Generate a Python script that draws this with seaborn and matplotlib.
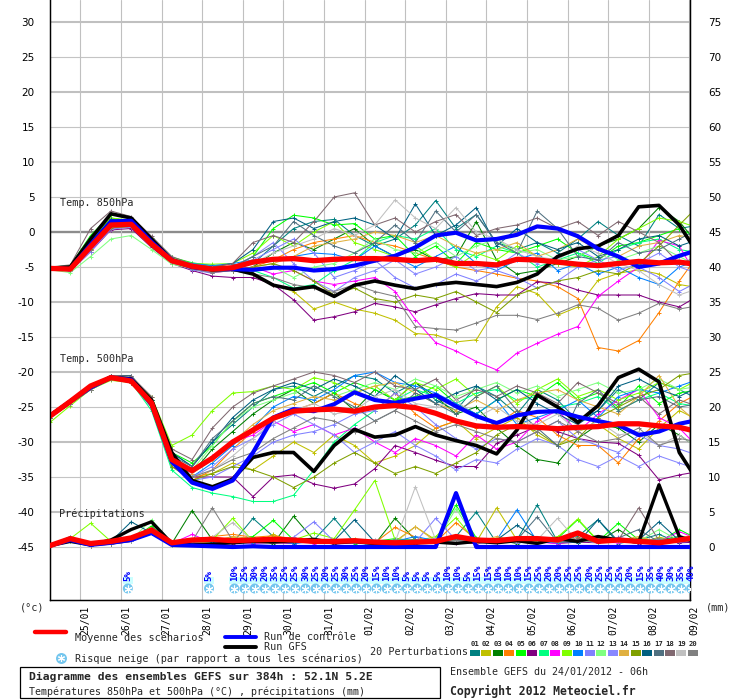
import matplotlib
matplotlib.use("Agg")
import matplotlib.pyplot as plt
from matplotlib.patches import Rectangle
from matplotlib.lines import Line2D
import numpy as np
import pandas as pd
import seaborn as sns

# ---------------- data ----------------
hours = [0, 12, 24, 36, 48, 60, 72, 84, 96, 108, 120, 132, 144, 156, 168, 180, 192,
         204, 216, 228, 240, 252, 264, 276, 288, 300, 312, 324, 336, 348, 360, 372, 384]
day_hours = [18, 42, 66, 90, 114, 138, 162, 186, 210, 234, 258, 282, 306, 330, 354, 378]
day_labels = ["25/01", "26/01", "27/01", "28/01", "29/01", "30/01", "31/01", "01/02",
              "02/02", "03/02", "04/02", "05/02", "06/02", "07/02", "08/02", "09/02"]

mean_850 = [-5.2, -5.3, -2.1, 1.0, 1.1, -1.7, -4.1, -4.9, -5.3,
            -5.1, -4.3, -3.9, -3.8, -4.1, -3.9, -3.8, -3.8, -3.9, -4.1, -3.9, -4.5,
            -4.5, -4.7, -3.9, -4.0, -4.3, -4.6, -4.8, -4.5, -4.2, -4.4, -4.3, -4.7]
ctrl_850 = [-5.2, -5.3, -1.8, 1.5, 1.6, -1.4, -4.0, -5.0, -5.3,
            -5.3, -5.4, -5.1, -5.1, -5.5, -5.3, -4.8, -4.1, -3.4, -2.2, -0.5, -0.1,
            -1.2, -1.0, -0.4, 0.8, 0.5, -0.6, -2.4, -3.5, -5.0, -4.5, -3.4, -2.5]
gfs_850 = [-5.2, -5.0, -1.0, 2.6, 2.0, -1.0, -4.0, -5.0, -5.4,
           -5.3, -6.0, -7.6, -8.2, -7.8, -9.2, -7.6, -7.0, -7.6, -8.1, -7.5, -7.2,
           -7.5, -7.8, -7.2, -6.0, -3.5, -2.4, -2.0, -0.5, 3.6, 3.8, 1.0, -3.5]

mean_500 = [-26.3, -24.2, -22.0, -20.8, -21.3, -24.4, -32.5, -34.1, -32.3,
            -30.0, -28.3, -26.6, -25.6, -25.4, -25.3, -25.6, -25.0, -24.8, -25.1, -25.9, -27.0,
            -27.7, -27.9, -27.8, -27.9, -28.1, -27.9, -27.8, -27.4, -27.4, -27.7, -27.9, -28.6]
ctrl_500 = [-26.3, -24.2, -22.2, -20.8, -21.1, -24.6, -32.8, -35.8, -36.7,
            -35.5, -31.5, -26.5, -25.3, -25.6, -24.6, -22.9, -24.0, -24.4, -23.8, -23.3, -24.9,
            -26.3, -27.3, -26.2, -25.7, -25.6, -26.4, -27.0, -27.6, -29.0, -28.5, -27.4, -26.8]
gfs_500 = [-26.3, -24.2, -22.2, -20.8, -21.0, -24.0, -31.5, -35.5, -36.4,
           -35.3, -32.2, -31.5, -31.5, -34.2, -30.5, -28.2, -29.3, -29.0, -27.8, -29.0, -29.8,
           -30.5, -31.7, -28.3, -23.3, -25.0, -27.2, -24.8, -20.8, -19.6, -21.4, -31.5, -36.0]

mean_rr = [0.2, 1.2, 0.5, 0.8, 1.3, 2.4, 0.6, 1.0, 1.1, 0.9, 1.0, 1.1, 1.0, 0.8, 0.8, 0.9, 0.7,
           0.6, 0.7, 0.8, 1.5, 1.0, 0.9, 1.2, 1.2, 1.0, 2.0, 0.8, 1.0, 0.8, 0.6, 1.0, 1.4]
ctrl_rr = [0.2, 1.0, 0.3, 0.6, 1.0, 2.0, 0.3, 0.2, 0.1, 0.0, 0.1, 0.0, 0.0, 0.0, 0.0, 0.0, 0.0,
           0.0, 0.0, 0.0, 7.7, 0.0, 0.0, 0.0, 0.0, 0.0, 0.0, 0.0, 0.0, 0.0, 0.0, 0.0, 0.0]
gfs_rr = [0.2, 0.8, 0.3, 1.0, 2.5, 3.6, 0.5, 0.3, 0.4, 0.6, 0.8, 0.7, 0.9, 1.1, 0.6, 0.8, 0.5,
          0.4, 0.6, 0.7, 0.5, 0.8, 0.6, 0.9, 0.5, 1.2, 0.8, 1.5, 1.0, 0.7, 8.9, 1.5, 0.5]

pert_names = ["01", "02", "03", "04", "05", "06", "07", "08", "09", "10",
              "11", "12", "13", "14", "15", "16", "17", "18", "19", "20"]
pert_colors = ["#008080", "#c0c000", "#008000", "#ff8000", "#00ff00", "#800080", "#00ff80",
               "#ff00ff", "#80ff00", "#0080ff", "#8080ff", "#80ff80", "#8888ff", "#e0b040",
               "#80a000", "#006080", "#507080", "#806870", "#c0c0c0", "#808080"]

pert_850 = [
    [-5.2, -5.1, -1.5, 1.5, 1.8, -1.0, -4.0, -5.0, -5.5, -5.0, -4.5, -2.0, 0.5, 1.5, 1.8, -0.5, -2.0, -1.0, 1.0, 4.5, 0.5, 2.5, -1.5, -2.5, -1.5, -3.0, -1.0, 1.5, -0.5, -2.0, 2.5, 0.5, 1.0],
    [-5.3, -5.4, -2.5, 0.5, 0.8, -2.0, -4.3, -5.2, -5.6, -5.5, -6.0, -7.5, -8.5, -11.0, -10.0, -11.0, -11.6, -12.6, -14.5, -14.7, -15.7, -15.4, -10.7, -7.8, -8.8, -11.9, -10.7, -6.9, -5.9, -5.4, -6.0, -7.5, -8.0],
    [-5.1, -5.0, -1.0, 2.0, 1.5, -1.5, -3.8, -4.6, -5.0, -5.5, -5.0, -3.0, -1.5, -2.5, -1.0, 0.5, -2.0, -3.5, -2.5, -4.0, -3.5, 1.5, -4.0, -6.0, -5.5, -4.5, -3.5, -2.0, -1.0, 0.5, 3.5, 1.5, -2.0],
    [-5.2, -5.3, -2.2, 1.0, 1.0, -1.8, -4.2, -5.0, -5.4, -5.5, -5.0, -4.0, -2.5, -1.5, -1.0, -0.5, -1.5, -2.0, -3.0, -4.0, -5.0, -5.5, -6.0, -6.6, -7.0, -7.8, -9.5, -16.5, -17.0, -15.5, -11.5, -7.0, -3.0],
    [-5.0, -4.8, -0.5, 2.5, 2.0, -0.8, -3.6, -4.4, -4.8, -5.0, -3.5, 0.5, 2.4, 2.0, 1.0, 1.2, -1.0, -0.5, -3.5, -2.0, -4.5, -1.5, -2.5, -3.0, -2.0, -1.0, -3.0, -4.0, -2.0, -1.5, -0.5, 0.5, -1.0],
    [-5.3, -5.6, -2.8, 0.3, 0.5, -2.2, -4.5, -5.5, -6.3, -6.5, -6.5, -7.5, -9.7, -12.6, -12.1, -11.4, -10.2, -10.7, -11.4, -10.4, -9.5, -8.8, -9.0, -9.0, -7.1, -7.3, -8.3, -9.0, -9.0, -9.0, -10.0, -10.7, -9.0],
    [-5.2, -5.2, -2.0, 1.2, 1.2, -1.5, -4.0, -5.0, -5.6, -5.5, -5.5, -6.5, -8.0, -7.5, -5.5, -4.0, -1.5, -0.5, -1.0, 0.5, -2.5, -3.5, -2.0, -3.0, -5.0, -4.0, -3.0, -4.5, -2.5, -1.5, -1.0, -2.5, -3.0],
    [-5.3, -5.5, -2.6, 0.5, 0.9, -1.9, -4.4, -5.2, -5.8, -5.5, -5.0, -6.0, -5.5, -7.0, -7.5, -7.0, -6.5, -8.5, -12.5, -15.8, -17.0, -18.5, -19.7, -17.3, -15.9, -14.6, -13.5, -9.2, -7.0, -5.0, -1.2, -2.0, -7.0],
    [-5.1, -4.9, -1.2, 2.0, 1.7, -1.2, -3.7, -4.5, -4.6, -4.5, -3.0, -0.5, -2.0, 0.0, 1.5, -1.5, -2.5, -3.5, -2.0, -4.0, -5.0, -3.0, -4.0, -2.0, -3.5, -4.5, -5.0, -3.5, -1.0, 0.5, 2.0, 1.5, 0.5],
    [-5.2, -5.2, -2.0, 1.3, 1.4, -1.6, -3.9, -4.5, -4.8, -4.5, -4.0, -4.0, -3.5, -3.0, -3.2, -4.0, -2.0, -3.5, -5.0, -3.5, -2.0, -4.5, -5.5, -4.0, -3.0, -5.5, -4.5, -6.0, -5.0, -6.5, -7.5, -5.0, -4.0],
    [-5.4, -5.5, -2.8, 0.4, 0.7, -2.0, -4.2, -5.4, -5.9, -4.8, -4.0, -2.5, -1.0, -3.0, -6.5, -5.5, -4.0, -6.5, -8.0, -7.5, -6.0, -7.0, -5.5, -6.5, -8.0, -7.0, -5.0, -4.0, -3.5, -5.0, -6.5, -8.5, -7.0],
    [-5.4, -5.8, -3.5, -1.0, -0.5, -2.5, -4.6, -5.2, -5.5, -5.5, -5.5, -5.0, -6.5, -5.0, -4.5, -3.0, -1.0, -2.5, -3.0, -1.5, -3.5, -2.0, -1.0, -3.0, -2.5, -4.0, -3.5, -2.0, -4.0, -3.0, -2.0, -3.5, -5.0],
    [-5.2, -5.3, -2.3, 0.8, 1.0, -1.8, -4.1, -5.0, -5.2, -5.0, -3.5, -1.5, -4.5, -7.0, -8.5, -6.5, -5.5, -4.0, -6.0, -5.0, -3.5, -5.5, -5.0, -3.0, -4.5, -3.5, -2.5, -4.0, -5.5, -4.5, -3.0, -5.0, -6.0],
    [-5.2, -5.1, -1.8, 1.2, 1.2, -1.4, -4.0, -4.8, -5.3, -5.5, -5.0, -4.5, -3.5, -2.0, -1.5, -1.0, 0.0, -0.5, -1.5, -0.5, -2.0, -3.0, -2.5, -1.5, -3.5, -2.5, -1.0, -2.5, -3.5, -2.0, -1.5, -0.5, -1.0],
    [-5.3, -5.3, -2.4, 0.6, 0.8, -2.0, -4.3, -5.1, -5.6, -5.5, -5.0, -4.5, -5.5, -7.0, -9.0, -8.0, -9.5, -10.0, -9.0, -9.5, -8.5, -10.0, -11.5, -9.0, -8.0, -7.0, -6.5, -5.5, -6.0, -4.5, -2.0, 1.0, 3.9],
    [-5.1, -5.0, -1.4, 1.8, 1.6, -1.2, -3.8, -4.7, -5.0, -4.5, -2.5, 1.5, 2.0, 0.5, 1.5, 2.0, 1.0, -1.0, 4.0, -0.5, 1.0, 3.5, -2.0, 0.5, -1.5, -2.5, -1.5, -3.5, -2.5, -1.0, -0.5, -2.0, -1.0],
    [-5.2, -5.1, -1.6, 1.6, 1.5, -1.3, -3.9, -4.8, -5.2, -5.0, -3.5, -2.0, 1.5, -0.5, -2.0, -3.0, -1.5, 1.0, -1.5, 3.0, 0.0, 2.5, -1.5, -3.0, 3.0, 0.5, -3.5, -4.0, -1.5, -3.0, -2.5, -1.0, 0.5],
    [-5.0, -4.7, 0.5, 3.0, 2.2, -0.6, -3.5, -4.6, -5.0, -4.5, -1.5, -0.5, -1.5, 1.5, 5.0, 5.6, 1.0, 2.0, 0.0, 1.5, 2.5, -0.5, 0.5, 1.0, 2.0, 0.5, 1.5, -0.5, 1.5, 0.0, -1.5, -4.5, -3.5],
    [-5.2, -5.2, -2.0, 1.0, 1.2, -1.6, -4.0, -4.8, -5.1, -5.0, -4.5, -3.0, -2.0, -1.0, 0.5, -0.5, 1.0, 4.6, 2.0, 0.5, 3.5, 0.0, -1.0, -2.5, -3.5, -4.0, -2.0, -3.0, -4.5, -5.5, -7.5, -9.0, -8.0],
    [-5.3, -5.4, -2.5, 0.7, 0.9, -1.9, -4.3, -5.3, -5.8, -5.5, -6.0, -6.5, -7.5, -8.0, -8.5, -7.5, -8.5, -9.2, -13.5, -13.8, -14.0, -13.0, -11.9, -11.9, -12.5, -11.6, -10.4, -10.9, -12.6, -11.6, -10.2, -11.0, -10.5],
]

pert_500 = [
    [-26.0, -24.0, -22.0, -20.5, -20.8, -24.0, -31.5, -33.5, -30.0, -27.5, -25.0, -22.5, -22.0, -23.5, -22.0, -20.5, -21.0, -23.0, -21.5, -24.0, -25.5, -22.0, -23.5, -26.0, -22.5, -24.0, -27.0, -25.5, -22.5, -24.0, -21.5, -22.5, -24.0],
    [-26.5, -24.5, -22.5, -21.0, -21.0, -24.5, -33.0, -35.0, -34.5, -33.0, -34.0, -32.0, -30.0, -31.5, -29.0, -30.5, -33.0, -32.0, -30.5, -28.0, -27.0, -29.5, -28.0, -26.5, -29.0, -30.5, -28.5, -27.5, -29.5, -31.0, -28.0, -25.5, -27.0],
    [-26.0, -24.0, -22.0, -20.5, -21.0, -24.0, -32.0, -34.5, -31.0, -28.5, -26.0, -24.0, -22.5, -24.5, -23.0, -25.5, -22.5, -24.0, -21.5, -23.5, -26.0, -25.0, -28.0, -30.5, -32.5, -33.0, -29.5, -27.5, -28.0, -30.0, -27.5, -29.0, -31.0],
    [-26.5, -24.5, -22.0, -21.0, -21.5, -25.0, -33.0, -35.5, -34.0, -31.0, -28.5, -26.5, -25.5, -24.5, -23.0, -24.5, -25.5, -23.0, -26.0, -28.0, -27.0, -28.0, -27.5, -25.5, -26.5, -29.0, -30.5, -30.5, -33.0, -29.5, -27.0, -24.5, -23.0],
    [-26.0, -24.0, -22.0, -20.8, -21.0, -24.0, -31.5, -33.0, -30.5, -27.0, -24.5, -23.5, -22.5, -21.5, -23.0, -21.5, -22.5, -24.0, -23.5, -22.0, -24.5, -26.0, -24.0, -22.5, -23.5, -21.5, -24.0, -23.0, -25.0, -22.0, -24.5, -23.0, -22.5],
    [-26.5, -24.5, -22.5, -21.0, -21.5, -25.0, -33.5, -35.0, -35.0, -35.0, -37.8, -35.0, -34.7, -36.0, -36.6, -36.0, -33.8, -30.5, -31.5, -32.6, -33.5, -33.5, -30.2, -29.0, -27.8, -28.5, -29.5, -30.0, -30.2, -31.9, -35.4, -34.7, -34.2],
    [-26.5, -24.5, -22.5, -21.0, -21.5, -25.5, -34.0, -36.5, -37.3, -37.8, -38.5, -38.5, -37.6, -34.0, -30.0, -27.5, -25.5, -24.0, -22.5, -23.5, -24.5, -23.0, -22.5, -24.0, -23.5, -25.0, -24.5, -23.5, -25.5, -24.0, -23.0, -24.5, -25.0],
    [-26.0, -24.0, -22.0, -20.5, -21.0, -24.5, -32.5, -34.5, -32.0, -30.0, -29.0, -27.0, -28.5, -27.5, -29.0, -28.0, -30.0, -31.5, -29.5, -30.5, -32.0, -29.0, -31.0, -30.0, -27.0, -25.5, -28.5, -26.0, -24.0, -22.5, -26.5, -28.0, -31.0],
    [-27.2, -24.8, -22.5, -21.2, -21.5, -23.5, -30.5, -29.0, -25.5, -23.0, -22.8, -22.0, -22.5, -20.8, -21.5, -23.0, -22.0, -24.0, -21.5, -22.5, -21.0, -23.5, -22.0, -24.5, -22.5, -21.0, -23.5, -22.5, -24.0, -23.0, -21.5, -22.5, -21.0],
    [-26.0, -24.0, -22.0, -20.5, -21.0, -24.5, -32.5, -35.0, -33.0, -30.5, -28.0, -25.0, -23.5, -24.0, -22.5, -20.5, -20.0, -21.5, -22.0, -23.0, -24.5, -26.0, -24.0, -27.5, -26.5, -25.5, -24.0, -26.5, -23.5, -22.5, -23.0, -22.0, -21.0],
    [-26.5, -24.5, -22.5, -21.0, -21.5, -25.0, -33.0, -35.5, -35.0, -33.5, -32.0, -30.0, -29.0, -28.5, -27.5, -26.0, -25.5, -23.0, -25.0, -27.5, -29.5, -31.0, -29.5, -30.0, -28.5, -27.0, -29.5, -30.5, -31.5, -29.0, -30.5, -31.0, -32.0],
    [-26.0, -24.0, -22.0, -21.0, -21.5, -24.5, -32.0, -34.0, -30.5, -27.0, -25.0, -24.0, -23.0, -22.0, -23.5, -22.5, -21.5, -22.5, -21.0, -22.0, -23.5, -22.5, -21.5, -23.0, -22.0, -23.5, -22.5, -21.5, -23.0, -22.5, -21.0, -22.5, -22.0],
    [-26.5, -24.5, -22.5, -21.0, -21.5, -25.0, -33.0, -35.0, -33.5, -31.0, -29.5, -27.5, -26.0, -27.5, -29.0, -31.5, -30.0, -28.5, -30.5, -32.0, -34.0, -32.5, -33.0, -31.0, -29.5, -30.5, -32.5, -33.5, -32.0, -33.5, -32.0, -33.0, -34.0],
    [-26.0, -24.0, -22.0, -20.5, -21.0, -24.5, -32.0, -34.5, -32.5, -30.0, -27.5, -25.5, -24.5, -23.5, -24.0, -23.0, -22.0, -21.5, -23.0, -24.5, -25.5, -24.0, -25.5, -24.0, -23.0, -22.5, -24.0, -25.0, -26.0, -23.5, -20.5, -25.0, -27.5],
    [-26.5, -24.5, -22.5, -21.0, -21.5, -25.0, -33.5, -35.5, -34.5, -33.5, -34.0, -35.0, -36.5, -35.0, -33.0, -31.5, -33.0, -34.5, -33.5, -34.5, -33.0, -31.5, -29.0, -27.5, -28.5, -30.5, -29.5, -26.5, -25.0, -23.5, -22.5, -20.5, -20.0],
    [-26.0, -24.0, -22.0, -20.5, -20.5, -24.0, -31.5, -33.5, -30.0, -26.5, -24.0, -22.5, -21.5, -22.5, -21.0, -22.0, -23.5, -20.5, -22.5, -24.5, -23.0, -22.0, -24.0, -22.5, -24.5, -26.0, -27.5, -25.5, -22.0, -21.0, -22.5, -23.5, -22.0],
    [-26.0, -24.0, -22.0, -20.5, -20.8, -24.0, -32.0, -33.5, -29.5, -27.0, -24.5, -23.5, -24.0, -22.0, -23.5, -25.0, -27.0, -25.5, -23.0, -24.5, -26.0, -23.5, -22.0, -25.5, -28.0, -30.5, -24.5, -22.5, -25.5, -24.0, -23.5, -25.0, -24.5],
    [-26.5, -24.5, -22.0, -20.5, -20.6, -23.5, -31.0, -32.5, -28.0, -25.0, -23.0, -22.0, -21.0, -20.0, -20.5, -21.5, -20.0, -22.0, -22.5, -21.0, -24.0, -22.5, -23.5, -22.0, -23.0, -24.5, -21.5, -23.0, -24.5, -23.5, -26.0, -24.0, -25.0],
    [-26.0, -24.0, -22.0, -20.8, -21.0, -24.5, -32.5, -35.0, -34.0, -32.0, -29.5, -27.0, -25.5, -24.5, -26.0, -25.5, -23.5, -22.5, -24.5, -25.0, -24.0, -26.5, -25.0, -27.0, -27.5, -26.0, -28.5, -27.0, -29.0, -28.5, -30.5, -29.0, -31.0],
    [-26.5, -24.5, -22.5, -21.0, -21.5, -25.0, -33.0, -35.0, -34.0, -32.5, -31.5, -29.5, -28.0, -26.5, -27.0, -28.5, -27.0, -25.5, -27.0, -28.5, -27.5, -28.5, -29.5, -30.0, -28.5, -27.0, -28.5, -30.0, -29.5, -28.0, -30.5, -29.5, -30.0],
]

pert_rr = [
    [0.2, 1.5, 0.3, 0.5, 1.0, 2.5, 0.4, 0.8, 1.2, 0.6, 4.1, 1.5, 0.8, 1.0, 4.1, 0.6, 0.3, 1.0, 0.4, 0.8, 1.5, 5.0, 0.6, 1.0, 6.0, 0.8, 1.5, 3.9, 0.5, 1.0, 1.8, 0.6, 1.2],
    [0.3, 0.9, 0.2, 0.4, 0.8, 2.0, 0.3, 0.6, 0.8, 1.5, 0.5, 1.8, 0.6, 0.9, 0.4, 1.2, 0.5, 0.8, 2.9, 1.0, 1.2, 0.7, 5.6, 1.0, 0.8, 1.5, 0.6, 1.1, 0.9, 0.5, 1.4, 0.8, 1.0],
    [0.2, 1.1, 0.4, 0.6, 1.2, 2.2, 0.5, 5.2, 1.0, 0.8, 1.2, 0.5, 4.4, 1.0, 0.7, 0.9, 0.4, 4.1, 1.0, 0.6, 1.3, 0.8, 1.0, 0.5, 1.2, 0.6, 1.0, 0.8, 2.5, 0.6, 1.0, 1.5, 0.8],
    [0.3, 1.0, 0.3, 0.5, 0.9, 2.8, 0.6, 0.9, 1.5, 1.8, 1.4, 1.6, 1.2, 0.9, 0.5, 0.8, 0.6, 2.8, 1.4, 0.7, 3.5, 1.0, 0.6, 0.8, 1.0, 0.6, 1.3, 0.9, 1.0, 0.8, 0.4, 1.2, 1.8],
    [0.2, 0.8, 0.3, 0.7, 1.1, 3.0, 0.5, 0.6, 0.9, 1.0, 1.5, 3.8, 1.0, 0.7, 1.0, 0.5, 0.8, 1.2, 0.9, 1.0, 6.0, 1.3, 0.9, 0.7, 0.6, 1.2, 3.9, 0.8, 3.4, 1.0, 0.7, 2.5, 1.0],
    [0.3, 1.0, 0.2, 0.4, 0.8, 2.0, 0.4, 0.5, 0.6, 0.5, 0.8, 0.6, 0.5, 0.9, 0.4, 0.6, 0.5, 0.7, 0.4, 0.8, 0.6, 0.5, 0.9, 0.6, 0.8, 0.5, 0.7, 0.6, 0.9, 0.5, 0.8, 0.6, 0.7],
    [0.2, 0.9, 0.3, 0.5, 1.0, 2.6, 0.4, 1.0, 0.7, 0.9, 0.6, 1.2, 0.8, 0.6, 1.0, 0.7, 0.5, 0.9, 1.1, 0.7, 1.4, 0.8, 1.0, 0.6, 0.9, 1.2, 0.7, 1.0, 0.8, 1.2, 0.9, 1.4, 1.0],
    [0.3, 1.1, 0.2, 0.6, 1.3, 2.4, 0.5, 1.8, 0.6, 0.8, 0.5, 0.7, 1.0, 0.5, 0.8, 0.6, 0.7, 0.5, 0.8, 1.2, 0.9, 0.6, 0.8, 1.0, 0.7, 0.5, 0.9, 0.7, 0.6, 1.0, 0.8, 2.2, 1.0],
    [0.2, 1.2, 3.4, 0.8, 1.0, 2.2, 0.5, 0.9, 1.0, 4.1, 0.8, 1.4, 1.0, 2.0, 1.2, 5.3, 9.5, 1.0, 0.8, 1.5, 4.2, 0.7, 1.0, 1.2, 0.8, 1.4, 4.0, 0.9, 1.0, 0.7, 1.2, 0.9, 1.3],
    [0.3, 0.8, 0.4, 0.5, 0.9, 2.6, 0.3, 0.7, 0.8, 1.0, 0.6, 0.9, 0.5, 0.8, 0.7, 1.0, 0.6, 0.8, 1.5, 0.9, 1.2, 0.8, 1.0, 5.3, 0.8, 0.6, 1.0, 0.7, 0.9, 0.6, 0.8, 1.0, 0.7],
    [0.2, 1.0, 0.3, 0.6, 1.1, 2.0, 0.4, 0.8, 1.2, 0.7, 1.0, 0.6, 1.4, 3.6, 0.8, 1.0, 0.5, 0.9, 0.7, 4.1, 1.0, 0.8, 0.6, 1.2, 0.9, 0.7, 1.0, 0.6, 1.4, 0.8, 1.1, 0.7, 0.9],
    [0.3, 0.9, 0.2, 0.7, 1.0, 3.9, 0.6, 0.9, 0.7, 1.2, 0.9, 0.7, 1.1, 0.8, 0.6, 0.9, 0.7, 1.0, 0.8, 0.6, 5.5, 0.9, 0.7, 1.0, 0.8, 1.1, 0.9, 0.7, 1.0, 0.8, 2.5, 0.9, 1.1],
    [0.2, 1.0, 0.3, 0.5, 0.8, 2.3, 0.5, 0.6, 0.9, 0.8, 0.7, 1.0, 0.6, 0.9, 0.8, 0.6, 1.0, 0.7, 0.9, 1.2, 0.8, 0.7, 1.0, 0.6, 0.8, 0.9, 0.7, 1.0, 0.8, 0.6, 0.9, 1.0, 0.8],
    [0.3, 0.8, 0.4, 0.6, 1.0, 2.5, 0.4, 0.8, 0.6, 1.5, 1.2, 0.9, 0.7, 1.0, 0.6, 0.8, 0.9, 0.7, 2.9, 0.8, 1.0, 0.6, 1.5, 0.9, 0.7, 1.0, 0.8, 1.2, 0.9, 1.5, 0.7, 1.2, 2.0],
    [0.2, 0.9, 0.3, 0.4, 0.9, 2.1, 0.5, 0.7, 0.8, 0.6, 0.9, 0.7, 1.0, 0.8, 0.6, 1.0, 0.8, 0.6, 0.9, 0.7, 1.0, 0.8, 1.2, 0.7, 0.9, 0.8, 1.0, 0.7, 0.9, 1.2, 0.8, 1.0, 0.9],
    [0.2, 1.0, 0.4, 0.8, 3.6, 2.0, 0.5, 0.9, 0.7, 1.0, 0.8, 1.2, 0.6, 1.0, 0.9, 3.9, 0.7, 1.0, 0.8, 0.9, 1.2, 0.8, 1.0, 3.1, 1.2, 0.8, 0.6, 3.9, 0.8, 1.0, 3.6, 0.9, 1.0],
    [0.3, 0.9, 0.3, 0.6, 1.2, 2.7, 0.4, 0.8, 1.0, 0.9, 0.7, 1.0, 0.8, 0.7, 1.0, 0.6, 0.9, 0.8, 1.0, 0.7, 0.9, 1.1, 0.8, 1.0, 4.3, 0.7, 0.9, 0.8, 1.3, 2.5, 0.7, 1.0, 1.2],
    [0.2, 1.1, 0.2, 0.5, 1.0, 2.3, 0.6, 0.7, 0.9, 0.8, 1.0, 0.7, 0.9, 0.6, 0.8, 1.0, 0.7, 0.9, 0.8, 1.0, 0.7, 0.9, 0.6, 0.8, 1.0, 0.9, 1.2, 0.8, 1.0, 5.6, 0.9, 0.8, 1.0],
    [0.3, 0.8, 0.3, 0.6, 0.9, 2.2, 0.5, 0.9, 1.4, 3.5, 0.8, 0.6, 1.0, 0.9, 0.7, 0.8, 1.0, 0.7, 8.6, 1.0, 0.8, 0.9, 1.2, 0.7, 1.0, 4.1, 0.8, 1.0, 0.7, 0.9, 0.8, 1.0, 0.9],
    [0.2, 1.0, 0.3, 0.5, 1.0, 2.4, 0.5, 0.8, 5.6, 0.9, 0.7, 0.8, 1.0, 0.7, 0.9, 0.8, 0.6, 1.0, 0.8, 0.9, 1.0, 0.7, 0.9, 0.8, 1.0, 0.7, 0.8, 1.0, 0.9, 0.7, 1.2, 0.8, 1.0],
]

snow_hours = [46, 94] + [109 + 6 * i for i in range(46)]
snow_pct = [5, 5,
            10, 25, 30, 20, 35, 25, 25, 30, 25, 20, 25, 30, 25, 20, 15, 10, 10, 5, 5, 5, 5, 10,
            10, 5, 15, 15, 10, 10, 10, 15, 25, 20, 20, 25, 25, 20, 25, 25, 25, 20, 15, 35, 40, 30, 35, 40]

# ---------------- figure ----------------
sns.set_theme(style="white")
plt.rcParams["font.family"] = ["DejaVu Sans"]
MONO = "DejaVu Sans Mono"

W, H = 740, 700
L, R, T, B = 50, 690, 0, 600
PX_PER_UNIT = 7.0
Y0 = 232.0           # pixel row of 0 degC


def fx(x):
    return x / W


def fy(y):
    return 1 - y / H


fig = plt.figure(figsize=(W / 100, H / 100), dpi=100)
fig.patch.set_facecolor("white")
ax = fig.add_axes([fx(L), fy(B), (R - L) / W, (B - T) / H])
ax.set_facecolor("white")
YLO, YHI = (Y0 - B) / PX_PER_UNIT, (Y0 - T) / PX_PER_UNIT
XMAX = (R - L) * 24 / 40.6
ax.set_xlim(0, XMAX)
ax.set_ylim(YLO, YHI)
ax2 = ax.twinx()
ax2.set_ylim(YLO + 45, YHI + 45)
ax.grid(False)
ax2.grid(False)


def v2(ypix):
    # pixel row -> precipitation-axis value
    return (Y0 - ypix) / PX_PER_UNIT + 45


# grid
for v in range(-45, 31, 5):
    if v == 0:
        ax.axhline(v, color="#8c8c8c", lw=1.7, zorder=0.5)
    elif v % 10 == 0:
        ax.axhline(v, color="#c0c0c0", lw=1.5, zorder=0.5)
    else:
        ax.axhline(v, color="#c4c4c4", lw=0.8, zorder=0.5)
for h in day_hours:
    ax.axvline(h, color="#c0c0c0", lw=0.8, zorder=0.5)

# perturbations
for i in range(len(pert_names)):
    c = pert_colors[i]
    for arr, a in ((pert_850[i], ax), (pert_500[i], ax), (pert_rr[i], ax2)):
        sns.lineplot(x=hours[:len(arr)], y=arr, color=c, lw=0.75, marker="+",
                     markersize=2.6, mec=c, mew=0.7, ax=a, zorder=2,
                     errorbar=None, legend=False)

# GFS, control, mean
for arr in (gfs_850, gfs_500):
    sns.lineplot(x=hours, y=arr, color="black", lw=2.6, ax=ax, zorder=3, errorbar=None)
for arr in (ctrl_850, ctrl_500):
    sns.lineplot(x=hours, y=arr, color="#0000ff", lw=3.0, ax=ax, zorder=4, errorbar=None)
for arr in (mean_850, mean_500):
    sns.lineplot(x=hours, y=arr, color="#ff0000", lw=3.8, ax=ax, zorder=5, errorbar=None)
sns.lineplot(x=hours, y=gfs_rr, color="black", lw=2.4, ax=ax2, zorder=3, errorbar=None)
sns.lineplot(x=hours, y=ctrl_rr, color="#0000ff", lw=3.0, ax=ax2, zorder=4, errorbar=None)
sns.lineplot(x=hours, y=mean_rr, color="#ff0000", lw=3.8, ax=ax2, zorder=5, errorbar=None)

# axes styling
ax.set_yticks(range(-45, 31, 5))
ax.set_yticklabels([str(v) for v in range(-45, 31, 5)])
ax.tick_params(axis="y", length=0, pad=11, labelsize=7.5, labelcolor="black")
ax2.set_yticks(range(0, 76, 5))
ax2.set_yticklabels([str(v) for v in range(0, 76, 5)])
ax2.tick_params(axis="y", length=0, pad=13, labelsize=7.5, labelcolor="black")
ax.set_xticks(day_hours)
ax.set_xticklabels(day_labels, rotation=90, fontsize=7.0, family=MONO, ha="left")
ax.tick_params(axis="x", length=0, pad=4, labelcolor="black")
ax.set_xlabel("")
ax.set_ylabel("")
ax2.set_ylabel("")
for a in (ax, ax2):
    a.spines["top"].set_visible(False)
    for s in ("left", "right", "bottom"):
        a.spines[s].set_color("black")
        a.spines[s].set_linewidth(0.9)

# panel labels
fig.text(fx(60), fy(203), "Temp. 850hPa", family=MONO, fontsize=7.3, va="center", ha="left")
fig.text(fx(60), fy(359), "Temp. 500hPa", family=MONO, fontsize=7.3, va="center", ha="left")
fig.text(fx(59), fy(514), "Précipitations", family=MONO, fontsize=7.3, va="center", ha="left")

# snow risk: light band, percentage labels, snowflake markers
ax2.add_patch(Rectangle((snow_hours[2] - 3, v2(584)), snow_hours[-1] - snow_hours[2] + 6,
                        7 / PX_PER_UNIT, color="#ccffff", zorder=6, lw=0))
for h in snow_hours[:2]:
    ax2.add_patch(Rectangle((h - 3, v2(584)), 6, 7 / PX_PER_UNIT, color="#ccffff", zorder=6, lw=0))
for h, p in zip(snow_hours, snow_pct):
    ax2.text(h, v2(581), f"{p}%", rotation=90, ha="center", va="bottom", color="#0000ff",
             fontsize=6.6, family=MONO, fontweight="bold", zorder=7)
flake_y = [v2(588.5)] * len(snow_hours)
ax2.scatter(snow_hours, flake_y, s=(10 * 0.72) ** 2, marker="o", color="#74c6ee",
            edgecolors="none", zorder=7)
ax2.scatter(snow_hours, flake_y, s=(7 * 0.72) ** 2, marker=(6, 2, 0), color="white",
            linewidths=0.8, zorder=8)

# unit labels
fig.text(fx(32), fy(607), "(°c)", family=MONO, fontsize=7.3, ha="center", va="center")
fig.text(fx(718), fy(607), "(mm)", family=MONO, fontsize=7.3, ha="center", va="center")

# legend
fig.add_artist(Line2D([fx(35), fx(66)], [fy(631.5)] * 2, color="#ff0000", lw=3.2))
fig.text(fx(75), fy(637.5), "Moyenne des scénarios", family=MONO, fontsize=7.3, va="center")
fig.add_artist(Line2D([fx(225), fx(256)], [fy(636.5)] * 2, color="#0000ff", lw=2.8))
fig.text(fx(264), fy(637), "Run de contrôle", family=MONO, fontsize=7.3, va="center")
fig.add_artist(Line2D([fx(225), fx(256)], [fy(646.5)] * 2, color="black", lw=2.8))
fig.text(fx(264), fy(647), "Run GFS", family=MONO, fontsize=7.3, va="center")
fig.add_artist(Line2D([fx(60.5)], [fy(657.5)], marker="o", markersize=10 * 0.72 * 1.1,
                      color="#74c6ee", mec="none", transform=fig.transFigure))
fig.add_artist(Line2D([fx(60.5)], [fy(657.5)], marker=(6, 2, 0), markersize=7 * 0.72,
                      color="white", mew=0.8, transform=fig.transFigure))
fig.text(fx(75), fy(659), "Risque neige (par rapport a tous les scénarios)",
         family=MONO, fontsize=7.3, va="center")
fig.text(fx(370), fy(652), "20 Perturbations", family=MONO, fontsize=7.3, va="center")
for i, (name, c) in enumerate(zip(pert_names, pert_colors)):
    x0 = 470 + 11.47 * i
    fig.add_artist(Rectangle((fx(x0), fy(656)), 10 / W, 6 / H, color=c,
                             transform=fig.transFigure, lw=0))
    fig.text(fx(x0 + 5), fy(644), name, family=MONO, fontsize=5.2, fontweight="bold",
             ha="center", va="center")

fig.add_artist(Rectangle((fx(20), fy(698)), 420 / W, 31 / H, fill=False, ec="black",
                         lw=0.9, transform=fig.transFigure))
fig.text(fx(29), fy(677), "Diagramme des ensembles GEFS sur 384h : 52.1N 5.2E",
         family=MONO, fontsize=8.2, fontweight="bold", va="center")
fig.text(fx(29), fy(691.5), "Températures 850hPa et 500hPa (°C) , précipitations (mm)",
         family=MONO, fontsize=7.2, va="center")
fig.text(fx(450), fy(672), "Ensemble GEFS du 24/01/2012 - 06h", family=MONO,
         fontsize=7.2, va="center")
fig.text(fx(450), fy(691), "Copyright 2012 Meteociel.fr", family=MONO, fontsize=8.3,
         fontweight="bold", va="center")

fig.savefig("out.png", dpi=100)
